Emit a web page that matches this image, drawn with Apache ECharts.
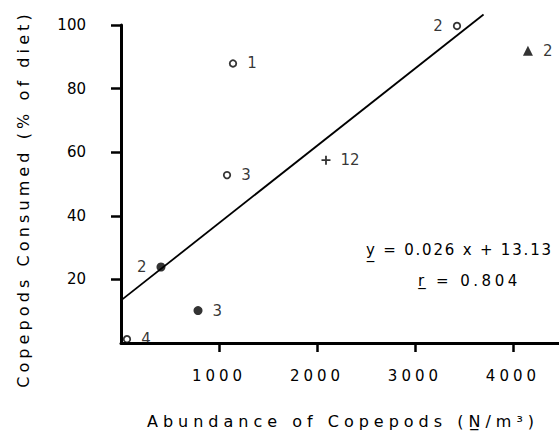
<!DOCTYPE html>
<html>
<head>
<meta charset="utf-8">
<title>Copepods consumed vs abundance</title>
<script src="https://cdn.jsdelivr.net/npm/echarts@6/dist/echarts.min.js"></script>
<style>
    html, body { margin: 0; padding: 0; background: #fff; }
    #main { width: 559px; height: 434px; }
</style>
</head>
<body>
<div id="main"></div>
<script>
// open circles
var openX = [1143, 3429, 1082, 61];
var openY = [87.9, 99.7, 52.8, 1.2];
var openN = ['1', '2', '3', '4'];
// filled circles
var dotX = [408, 786];
var dotY = [23.9, 10.2];
var dotN = ['2', '3'];
// filled triangle
var triX = [4153];
var triY = [91.9];
var triN = ['2'];
// plus
var plusX = [2092];
var plusY = [57.5];
var plusN = ['12'];
// fitted line as drawn
var fitX = [0, 3700];
var fitY = [13.4, 103.3];

var xTicks = [1000, 2000, 3000, 4000];
var yTicks = [20, 40, 60, 80, 100];

var FONT = 'DejaVu Sans';

function pts(xs, ys, ns, leftIdx) {
    return xs.map(function (x, i) {
        var d = { value: [x, ys[i]], name: ns[i] };
        if (leftIdx.indexOf(i) >= 0) d.label = { position: 'left' };
        return d;
    });
}

var ptLabel = {
    show: true, position: 'right', distance: 10,
    formatter: '{b}', color: '#000', fontFamily: FONT, fontSize: 15
};

var chart = echarts.init(document.getElementById('main'), null, { renderer: 'svg' });

chart.setOption({
    animation: false,
    backgroundColor: '#fff',
    grid: { left: 121, right: 0, top: 25, bottom: 87 },
    xAxis: {
        type: 'value', min: 0, max: 4470,
        splitLine: { show: false },
        axisLine: { lineStyle: { color: '#000', width: 3 } },
        axisTick: { customValues: xTicks, length: 9, lineStyle: { color: '#000', width: 2.5 } },
        axisLabel: {
            customValues: xTicks, color: '#000', fontFamily: FONT, fontSize: 15, margin: 25,
            formatter: function (v) { return String(v); }
        },
        name: 'Abundance of Copepods (N\u0332/m\u00b3)',
        nameLocation: 'middle', nameGap: 70,
        nameTextStyle: { color: '#000', fontFamily: FONT, fontSize: 16, padding: [0, 0, 0, 6] }
    },
    yAxis: {
        type: 'value', min: 0, max: 100,
        splitLine: { show: false },
        axisLine: { lineStyle: { color: '#000', width: 3 } },
        axisTick: { customValues: yTicks, length: 10, lineStyle: { color: '#000', width: 2.5 } },
        axisLabel: { customValues: yTicks, color: '#000', fontFamily: FONT, fontSize: 15, margin: 35 },
        name: 'Copepods Consumed (% of diet)',
        nameLocation: 'middle', nameGap: 90, nameRotate: 90,
        nameTextStyle: { color: '#000', fontFamily: FONT, fontSize: 16, padding: [0, 30, 0, 0] }
    },
    graphic: [
        { type: 'text', left: 366, top: 242,
          style: { text: 'y\u0332 = 0.026 x + 13.13', fill: '#000', font: '15px "DejaVu Sans"' } },
        { type: 'text', left: 418, top: 273,
          style: { text: 'r\u0332 = 0.804', fill: '#000', font: '15px "DejaVu Sans"' } }
    ],
    series: [
        {
            type: 'line', data: fitX.map(function (x, i) { return [x, fitY[i]]; }),
            showSymbol: false, clip: false, silent: true,
            lineStyle: { color: '#000', width: 1.8 }
        },
        {
            type: 'scatter', data: pts(openX, openY, openN, [1]),
            symbol: 'circle', symbolSize: 6.5,
            itemStyle: { color: '#fff', borderColor: '#000', borderWidth: 1.8 },
            label: ptLabel
        },
        {
            type: 'scatter', data: pts(dotX, dotY, dotN, [0]),
            symbol: 'circle', symbolSize: 9,
            itemStyle: { color: '#000' },
            label: ptLabel
        },
        {
            type: 'scatter', data: pts(triX, triY, triN, []),
            symbol: 'triangle', symbolSize: 10,
            itemStyle: { color: '#000' },
            label: ptLabel
        },
        {
            type: 'scatter', data: pts(plusX, plusY, plusN, []),
            symbol: 'path://M4,0H6V4H10V6H6V10H4V6H0V4H4Z', symbolSize: 9,
            itemStyle: { color: '#000' },
            label: ptLabel
        }
    ]
});

// widen letter spacing like the lettering of the original
function spaceLetters() {
    var texts = document.querySelectorAll('#main svg text');
    texts.forEach(function (t) {
        var s = t.textContent;
        var sp = '0px';
        if (/^Abundance/.test(s)) sp = '5px';
        else if (/^Copepods/.test(s)) sp = '4.1px';
        else if (/^\d{4}$/.test(s)) sp = '4px';
        else if (/^y/.test(s)) sp = '1.8px';
        else if (/^r/.test(s)) sp = '3.5px';
        t.style.letterSpacing = sp;
    });
}
chart.on('finished', spaceLetters);
spaceLetters();
</script>
</body>
</html>
